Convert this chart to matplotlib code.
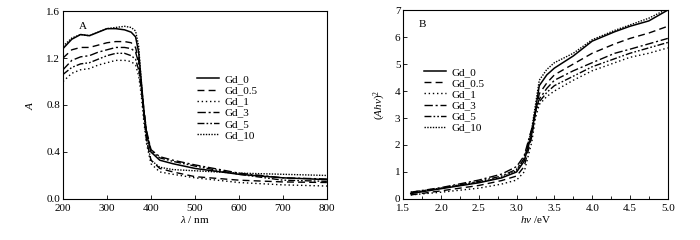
import matplotlib
matplotlib.use('Agg')
import matplotlib.pyplot as plt
from matplotlib.ticker import MultipleLocator

plt.rcParams['font.family'] = ['Liberation Serif', 'DejaVu Serif']
plt.rcParams['mathtext.fontset'] = 'custom'
plt.rcParams['mathtext.rm'] = 'Liberation Serif'
plt.rcParams['mathtext.it'] = 'Liberation Serif:italic'
plt.rcParams['font.size'] = 8

labels = ['Gd_0', 'Gd_0.5', 'Gd_1', 'Gd_3', 'Gd_5', 'Gd_10']

# panel A: absorbance vs wavelength
wl = [200, 220, 240, 260, 280, 300, 320, 340, 355, 365, 372, 378, 384, 390, 400, 420, 450, 500, 600, 700, 800]
a_gd0 = [1.28, 1.36, 1.40, 1.39, 1.42, 1.45, 1.45, 1.44, 1.42, 1.38, 1.25, 1.00, 0.75, 0.55, 0.40, 0.33, 0.30, 0.26, 0.21, 0.18, 0.165]
a_gd05 = [1.20, 1.27, 1.29, 1.29, 1.31, 1.33, 1.34, 1.34, 1.33, 1.29, 1.18, 0.95, 0.70, 0.50, 0.33, 0.26, 0.23, 0.19, 0.16, 0.145, 0.14]
a_gd1 = [1.00, 1.07, 1.10, 1.11, 1.14, 1.16, 1.18, 1.18, 1.17, 1.14, 1.05, 0.88, 0.65, 0.47, 0.30, 0.23, 0.21, 0.18, 0.14, 0.12, 0.11]
a_gd3 = [1.10, 1.18, 1.21, 1.22, 1.25, 1.27, 1.29, 1.29, 1.28, 1.25, 1.16, 0.97, 0.76, 0.58, 0.42, 0.36, 0.33, 0.29, 0.22, 0.18, 0.17]
a_gd5 = [1.06, 1.12, 1.15, 1.16, 1.19, 1.22, 1.24, 1.24, 1.22, 1.19, 1.10, 0.93, 0.74, 0.57, 0.41, 0.35, 0.32, 0.28, 0.21, 0.16, 0.15]
a_gd10 = [1.30, 1.37, 1.40, 1.39, 1.42, 1.45, 1.46, 1.47, 1.46, 1.43, 1.30, 1.00, 0.72, 0.50, 0.33, 0.27, 0.25, 0.24, 0.22, 0.21, 0.20]

# panel B: (A h nu)^2 vs photon energy
ev = [1.6, 2.0, 2.5, 2.8, 3.0, 3.1, 3.2, 3.25, 3.3, 3.4, 3.5, 3.75, 4.0, 4.3, 4.5, 4.75, 5.0]
b_gd0 = [0.20, 0.38, 0.60, 0.78, 1.00, 1.40, 2.40, 3.30, 4.20, 4.60, 4.85, 5.30, 5.85, 6.20, 6.40, 6.60, 7.00]
b_gd05 = [0.15, 0.30, 0.50, 0.68, 0.85, 1.20, 2.30, 3.20, 3.90, 4.30, 4.60, 5.00, 5.40, 5.75, 5.95, 6.15, 6.40]
b_gd1 = [0.15, 0.25, 0.40, 0.55, 0.70, 1.00, 2.10, 3.00, 3.50, 3.80, 4.00, 4.40, 4.75, 5.05, 5.25, 5.40, 5.60]
b_gd3 = [0.25, 0.42, 0.70, 0.92, 1.20, 1.60, 2.60, 3.30, 3.70, 4.10, 4.40, 4.75, 5.05, 5.40, 5.55, 5.75, 5.95]
b_gd5 = [0.22, 0.40, 0.65, 0.85, 1.10, 1.50, 2.50, 3.20, 3.60, 3.95, 4.20, 4.55, 4.90, 5.20, 5.40, 5.60, 5.80]
b_gd10 = [0.25, 0.40, 0.62, 0.80, 1.05, 1.50, 2.60, 3.50, 4.40, 4.80, 5.05, 5.40, 5.90, 6.25, 6.45, 6.70, 7.05]

styles = [
    dict(ls='-', lw=1.1),
    dict(ls=(0, (5, 3)), lw=1.0),
    dict(ls=(0, (1, 2)), lw=1.0),
    dict(ls=(0, (6, 2, 1.5, 2)), lw=1.0),
    dict(ls=(0, (5, 1.5, 1.2, 1.5, 1.2, 1.5)), lw=1.0),
    dict(ls=(0, (1, 1)), lw=1.0),
]

fig = plt.figure(figsize=(7, 2.4), dpi=100)
ax1 = fig.add_axes([0.09, 0.171, 0.377, 0.783])
ax2 = fig.add_axes([0.576, 0.171, 0.378, 0.787])

for ys, lab, st in zip([a_gd0, a_gd05, a_gd1, a_gd3, a_gd5, a_gd10], labels, styles):
    ax1.plot(wl, ys, color='black', label=lab, **st)
for ys, lab, st in zip([b_gd0, b_gd05, b_gd1, b_gd3, b_gd5, b_gd10], labels, styles):
    ax2.plot(ev, ys, color='black', label=lab, **st)

ax1.set_xlim(200, 800)
ax1.set_ylim(0, 1.6)
ax1.xaxis.set_major_locator(MultipleLocator(100))
ax1.yaxis.set_major_locator(MultipleLocator(0.4))
ax1.yaxis.set_major_formatter(matplotlib.ticker.FormatStrFormatter('%.1f'))
ax1.set_xlabel(r'$\lambda$ / nm', labelpad=1)
ax1.set_ylabel(r'$A$', labelpad=8)
ax1.text(0.06, 0.94, 'A', transform=ax1.transAxes, va='top', ha='left')
ax1.legend(loc='upper left', bbox_to_anchor=(0.47, 0.715), frameon=False,
           handlelength=2.0, labelspacing=0.12, handletextpad=0.45, fontsize=8)

ax2.set_xlim(1.5, 5.0)
ax2.set_ylim(0, 7)
ax2.xaxis.set_major_locator(MultipleLocator(0.5))
ax2.xaxis.set_minor_locator(MultipleLocator(0.25))
ax2.yaxis.set_major_locator(MultipleLocator(1))
ax2.xaxis.set_major_formatter(matplotlib.ticker.FormatStrFormatter('%.1f'))
ax2.set_xlabel(r'$h\nu$ /eV', labelpad=1)
ax2.set_ylabel(r'$(Ah\nu)^2$', labelpad=5)
ax2.text(0.06, 0.95, 'B', transform=ax2.transAxes, va='top', ha='left')
ax2.legend(loc='upper left', bbox_to_anchor=(0.04, 0.75), frameon=False,
           handlelength=2.0, labelspacing=0.12, handletextpad=0.45, fontsize=8)

for ax in (ax1, ax2):
    ax.tick_params(which='both', direction='in', top=False, right=False, labelsize=8)
    ax.tick_params(axis='x', pad=3.5)
    ax.tick_params(axis='y', pad=2)
    ax.tick_params(which='major', length=3, width=0.6)
    ax.tick_params(which='minor', length=2, width=0.6)
    for sp in ax.spines.values():
        sp.set_linewidth(0.8)

fig.savefig('out.png', dpi=100)
